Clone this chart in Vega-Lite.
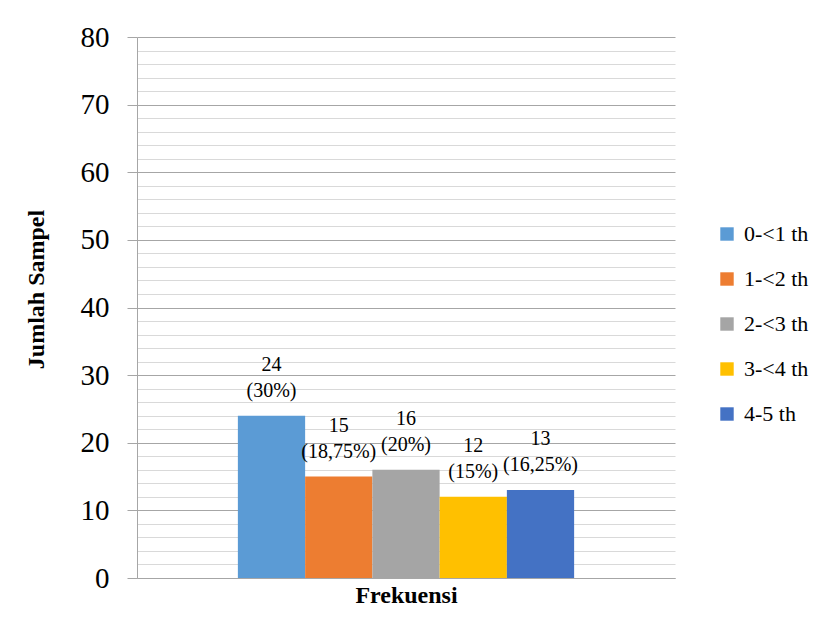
{
  "$schema": "https://vega.github.io/schema/vega-lite/v6.json",
  "width": 538,
  "height": 541,
  "autosize": "none",
  "padding": {"left": 137, "top": 37, "right": 157, "bottom": 64},
  "background": "white",
  "config": {"view": {"stroke": null}, "font": "'Liberation Serif', 'DejaVu Serif', serif"},
  "data": {
    "values": [
      {"kategori": "Frekuensi", "usia": "0-<1 th", "n": 24, "pct": "30%"},
      {"kategori": "Frekuensi", "usia": "1-<2 th", "n": 15, "pct": "18,75%"},
      {"kategori": "Frekuensi", "usia": "2-<3 th", "n": 16, "pct": "20%"},
      {"kategori": "Frekuensi", "usia": "3-<4 th", "n": 12, "pct": "15%"},
      {"kategori": "Frekuensi", "usia": "4-5 th", "n": 13, "pct": "16,25%"}
    ]
  },
  "transform": [{"calculate": "datum.n + '\\n(' + datum.pct + ')'", "as": "label"}],
  "encoding": {
    "x": {
      "field": "kategori",
      "type": "nominal",
      "scale": {"paddingInner": 0, "paddingOuter": 0.3},
      "axis": {
        "labels": false,
        "ticks": false,
        "grid": false,
        "domain": true,
        "domainColor": "#a6a6a6",
        "title": "Frekuensi",
        "titleFont": "'Liberation Serif', 'DejaVu Serif', serif",
        "titleFontSize": 24,
        "titleFontWeight": "bold",
        "titleColor": "#000000",
        "titlePadding": 5
      }
    },
    "xOffset": {
      "field": "usia",
      "type": "nominal",
      "sort": ["0-<1 th", "1-<2 th", "2-<3 th", "3-<4 th", "4-5 th"],
      "scale": {"paddingInner": 0, "paddingOuter": 0}
    },
    "y": {
      "field": "n",
      "type": "quantitative",
      "scale": {"domain": [0, 80], "nice": false},
      "axis": {
        "values": [0, 2, 4, 6, 8, 10, 12, 14, 16, 18, 20, 22, 24, 26, 28, 30, 32, 34, 36, 38, 40, 42, 44, 46, 48, 50, 52, 54, 56, 58, 60, 62, 64, 66, 68, 70, 72, 74, 76, 78, 80],
        "grid": true,
        "gridColor": {"condition": {"test": "datum.value % 10 === 0", "value": "#a6a6a6"}, "value": "#d9d9d9"},
        "gridWidth": 1,
        "domainColor": "#a6a6a6",
        "tickColor": "#a6a6a6",
        "tickSize": 10,
        "tickOpacity": {"condition": {"test": "datum.value % 10 === 0", "value": 1}, "value": 0},
        "labelExpr": "datum.value % 10 === 0 ? datum.label : ''",
        "labelOverlap": false,
        "labelBound": false,
        "labelFlush": false,
        "labelFont": "'Liberation Serif', 'DejaVu Serif', serif",
        "labelFontWeight": "normal",
        "labelFontSize": 29,
        "labelColor": "#000000",
        "labelPadding": 18,
        "title": "Jumlah Sampel",
        "titleFont": "'Liberation Serif', 'DejaVu Serif', serif",
        "titleFontSize": 24,
        "titleFontWeight": "bold",
        "titleColor": "#000000",
        "titleX": -101,
        "titleY": 252,
        "titleBaseline": "middle",
        "titleAngle": 270
      }
    }
  },
  "layer": [
    {
      "mark": {"type": "bar"},
      "encoding": {
        "color": {
          "field": "usia",
          "type": "nominal",
          "scale": {
            "domain": ["0-<1 th", "1-<2 th", "2-<3 th", "3-<4 th", "4-5 th"],
            "range": ["#5b9bd5", "#ed7d31", "#a5a5a5", "#ffc000", "#4472c4"]
          },
          "legend": {
            "title": null,
            "orient": "none",
            "legendX": 579,
            "legendY": 186,
            "padding": 0,
            "symbolType": "square",
            "symbolSize": 180,
            "symbolStrokeWidth": 0,
            "labelFont": "'Liberation Serif', 'DejaVu Serif', serif",
            "labelFontWeight": "normal",
            "labelFontSize": 22,
            "labelColor": "#000000",
            "labelOffset": 6,
            "rowPadding": 23
          }
        }
      }
    },
    {
      "mark": {"type": "text", "baseline": "middle", "dy": -51, "fontSize": 20, "lineBreak": "\n", "lineHeight": 26, "font": "'Liberation Serif', 'DejaVu Serif', serif", "fontWeight": "normal", "color": "#000000"},
      "encoding": {"text": {"field": "label"}}
    }
  ]
}
